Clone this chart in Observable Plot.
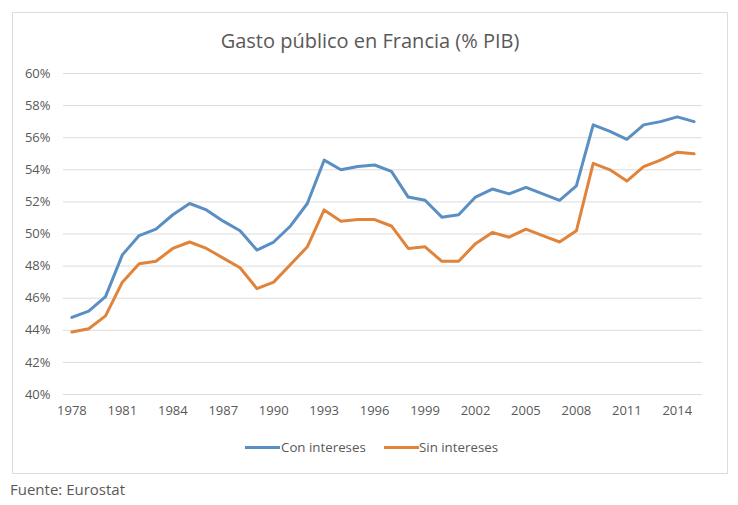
<!DOCTYPE html>
<html><head><meta charset="utf-8">
<script src="https://cdn.jsdelivr.net/npm/d3@7"></script>
<script src="https://cdn.jsdelivr.net/npm/@observablehq/plot@0.6"></script>
<style>
body{margin:0;background:#fff;font-family:"Open Sans",sans-serif;}
#wrap{position:relative;width:738px;height:505px;overflow:hidden;}
#frame{position:absolute;left:12px;top:12px;width:714px;height:460px;border:1px solid #dcdcdc;}
#title{position:absolute;left:12px;width:716px;top:28px;text-align:center;font-size:20px;color:#595959;line-height:26px;}
#chart{position:absolute;left:0;top:0;}
.leg{position:absolute;top:438px;font-size:13.3px;color:#595959;line-height:18px;}
.sw{position:absolute;top:446px;height:3px;width:35px;}
#source{position:absolute;left:10px;top:479px;font-size:15px;color:#595959;line-height:20px;}
</style></head>
<body>
<div id="wrap">
  <div id="frame"></div>
  <div id="title">Gasto público en Francia (% PIB)</div>
  <div id="chart"></div>
  <div class="sw" id="sw1" style="left:245px"></div>
  <div class="leg" id="lg1" style="left:281px"></div>
  <div class="sw" id="sw2" style="left:384px"></div>
  <div class="leg" id="lg2" style="left:419px"></div>
  <div id="source">Fuente: Eurostat</div>
</div>
<script>
const years = [1978,1979,1980,1981,1982,1983,1984,1985,1986,1987,1988,1989,1990,1991,1992,1993,1994,1995,1996,1997,1998,1999,2000,2001,2002,2003,2004,2005,2006,2007,2008,2009,2010,2011,2012,2013,2014,2015];
const conIntereses = [44.8,45.2,46.1,48.7,49.9,50.3,51.2,51.9,51.5,50.8,50.2,49.0,49.5,50.5,51.9,54.6,54.0,54.2,54.3,53.9,52.3,52.1,51.05,51.2,52.3,52.8,52.5,52.9,52.5,52.1,53.0,56.8,56.4,55.9,56.8,57.0,57.3,57.0];
const sinIntereses = [43.9,44.1,44.9,47.0,48.15,48.3,49.1,49.5,49.1,48.5,47.9,46.6,47.0,48.1,49.2,51.5,50.8,50.9,50.9,50.5,49.1,49.2,48.3,48.3,49.4,50.1,49.8,50.3,49.9,49.5,50.2,54.4,54.0,53.3,54.2,54.6,55.1,55.0];
const seriesNames = ["Con intereses","Sin intereses"];
const seriesColors = ["#5a8fc3","#e0843c"];
const xTickLabels = [1978,1981,1984,1987,1990,1993,1996,1999,2002,2005,2008,2011,2014];
const yTickLabels = [40,42,44,46,48,50,52,54,56,58,60];

const rows = [];
years.forEach((y,i)=>{
  rows.push({year:y, value:conIntereses[i], series:seriesNames[0]});
  rows.push({year:y, value:sinIntereses[i], series:seriesNames[1]});
});

const chart = Plot.plot({
  width: 738,
  height: 430,
  marginLeft: 63,
  marginRight: 36,
  marginTop: 73,
  marginBottom: 36,
  style: {background:"none", fontFamily:"'Open Sans', sans-serif", fontSize:"13px", color:"#595959"},
  x: {type:"linear", domain:[1977.5, 2015.5]},
  y: {domain:[40,60]},
  color: {domain: seriesNames, range: seriesColors},
  marks: [
    Plot.ruleY(yTickLabels, {stroke:"#dcdcdc", strokeWidth:1}),
    Plot.axisY(yTickLabels, {tickSize:0, tickPadding:13, tickFormat:d=>d+"%", label:null}),
    Plot.axisX(xTickLabels, {tickSize:0, tickPadding:11, tickFormat:d=>String(d), label:null}),
    Plot.line(rows, {x:"year", y:"value", stroke:"series", z:"series", strokeWidth:3, strokeLinejoin:"round", strokeLinecap:"round"})
  ]
});
document.getElementById("chart").appendChild(chart);
document.getElementById("sw1").style.background = seriesColors[0];
document.getElementById("sw2").style.background = seriesColors[1];
document.getElementById("lg1").textContent = seriesNames[0];
document.getElementById("lg2").textContent = seriesNames[1];
</script>
</body></html>
